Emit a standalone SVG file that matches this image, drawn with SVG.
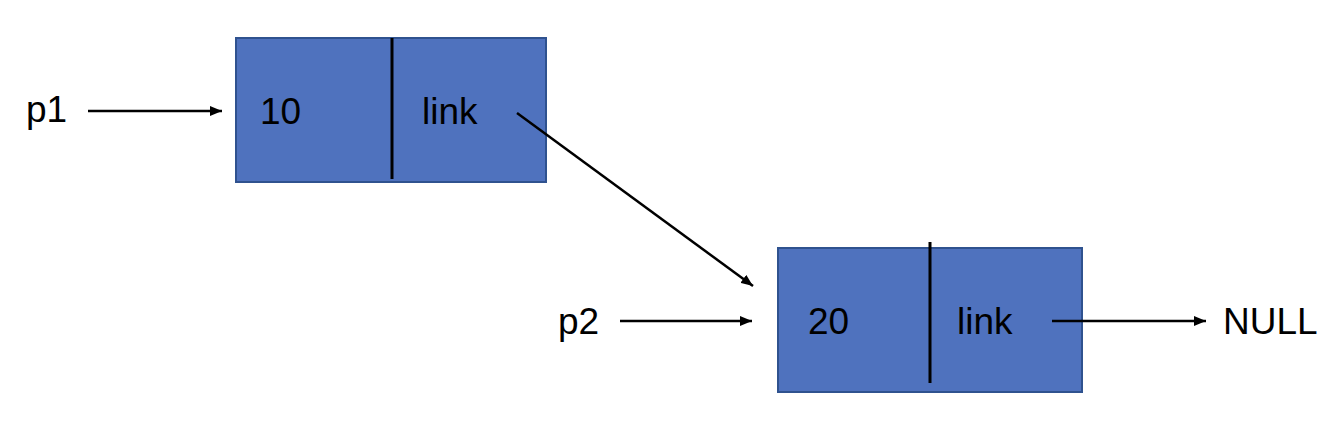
<svg xmlns="http://www.w3.org/2000/svg" width="1338" height="430" viewBox="0 0 1338 430">
<style>
.box{fill:#4F72BE;stroke:#2F528F;stroke-width:2}
.div{stroke:#000;stroke-width:3}
.t{font-family:"Liberation Sans",Arial,sans-serif;font-size:37px;fill:#000}
.c{stroke:#000;stroke-width:2.5;fill:none;marker-end:url(#ah)}
</style>
<defs>
<marker id="ah" viewBox="0 0 12 10" refX="12" refY="5" markerWidth="12" markerHeight="10" markerUnits="userSpaceOnUse" orient="auto">
<path d="M0,0 L12,5 L0,10 z" fill="#000"/>
</marker>
</defs>
<rect width="1338" height="430" fill="#fff"/>
<g id="node1">
<rect class="box" x="236" y="38" width="310" height="144"/>
<line class="div" x1="392" y1="38" x2="392" y2="179"/>
<text class="t" x="260" y="124">10</text>
<text class="t" x="422" y="124">link</text>
</g>
<g id="node2">
<rect class="box" x="778" y="248" width="304" height="144"/>
<line class="div" x1="930" y1="242" x2="930" y2="383"/>
<text class="t" x="808" y="334">20</text>
<text class="t" x="957" y="334">link</text>
</g>
<g id="p1">
<text class="t" x="26" y="122">p1</text>
</g>
<g id="p2">
<text class="t" x="558" y="334">p2</text>
</g>
<g id="null">
<text class="t" x="1223" y="334">NULL</text>
</g>
<g id="connectors">
<line class="c" x1="88" y1="111" x2="222" y2="111"/>
<line class="c" x1="517" y1="113" x2="753" y2="286"/>
<line class="c" x1="620" y1="321" x2="752" y2="321"/>
<line class="c" x1="1052" y1="321" x2="1206" y2="321"/>
</g>
</svg>
